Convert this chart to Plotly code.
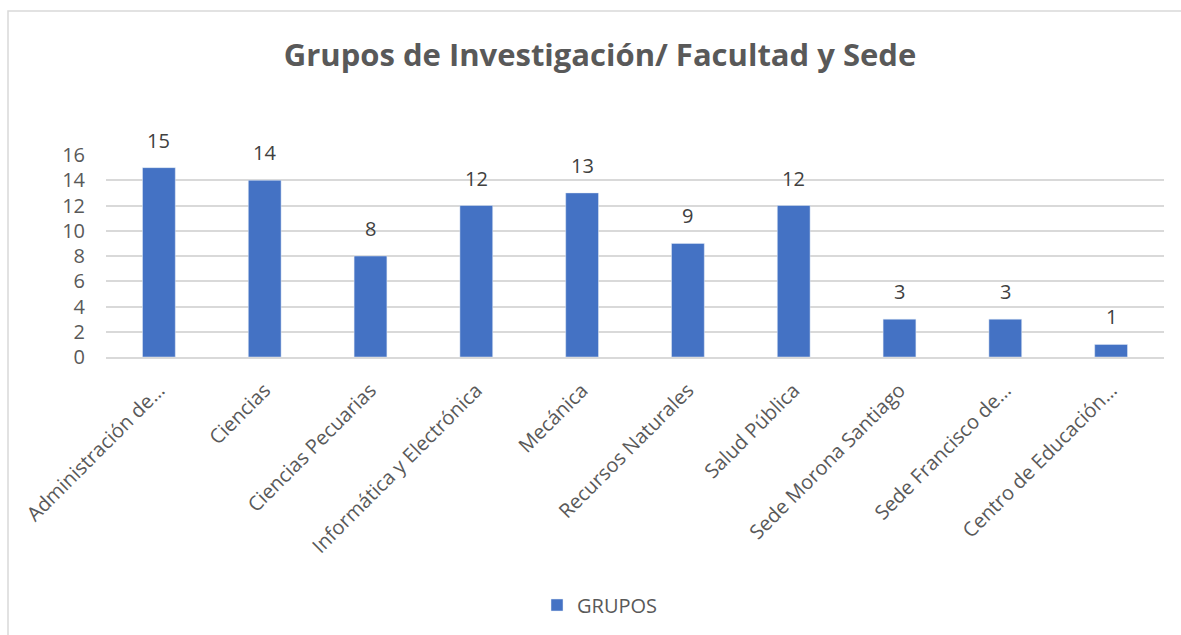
import plotly.graph_objects as go

categories = ["Administración de…", "Ciencias", "Ciencias Pecuarias", "Informática y Electrónica",
              "Mecánica", "Recursos Naturales", "Salud Pública", "Sede Morona Santiago",
              "Sede Francisco de…", "Centro de Educación…"]
grupos = [15, 14, 8, 12, 13, 9, 12, 3, 3, 1]
y_ticks = [0, 2, 4, 6, 8, 10, 12, 14, 16]

FONT = "Open Sans"
GREY = "#595959"

ml, mr, mt, mb = 106, 17, 155, 278
W, H = 1181, 635
pw, ph = W - ml - mr, H - mt - mb

def px_x(p):
    return (p - ml) / pw

def px_y(p):
    return (H - mb - p) / ph

fig = go.Figure()
fig.add_trace(go.Bar(
    x=categories, y=grupos, name="GRUPOS",
    marker=dict(color="#4472C4"),
    cliponaxis=False,
))

annotations = [dict(x=c, y=v, xref="x", yref="y", text=str(v), showarrow=False,
                    yanchor="bottom", yshift=12,
                    font=dict(family=FONT, size=20, color="#404040"))
               for c, v in zip(categories, grupos)]

fig.update_layout(
    width=W, height=H,
    margin=dict(l=ml, r=mr, t=mt, b=mb, autoexpand=False),
    paper_bgcolor="white", plot_bgcolor="white",
    bargap=0.69,
    font=dict(family=FONT, color=GREY, size=20),
    title=dict(text="<b>Grupos de Investigación/ Facultad y Sede</b>",
               x=600 / W, xanchor="center", y=1 - 55 / H, yanchor="middle",
               font=dict(family=FONT, size=31, color=GREY)),
    showlegend=True,
    legend=dict(orientation="h", x=px_x(600), xanchor="center",
                y=px_y(605), yanchor="middle", itemwidth=30,
                font=dict(family=FONT, size=20, color=GREY)),
    annotations=annotations,
    xaxis=dict(tickangle=-45, tickfont=dict(family=FONT, size=20, color=GREY),
               showline=True, linecolor="#d9d9d9", linewidth=1.5,
               ticks="", showgrid=False, ticklabelstandoff=12),
    yaxis=dict(range=[0, 16], tickvals=y_ticks, showgrid=True, gridcolor="#d9d9d9",
               gridwidth=1.5, zeroline=False, showline=False,
               tickfont=dict(family=FONT, size=20, color=GREY), ticks="",
               ticklabelstandoff=20),
    shapes=[dict(type="rect", xref="paper", yref="paper",
                 x0=px_x(8), x1=px_x(1300), y0=px_y(800), y1=px_y(11),
                 line=dict(color="#d9d9d9", width=1.5), layer="below")],
)

fig.write_html("out.html", config={"displayModeBar": False},
               post_script="document.documentElement.style.overflow='hidden';"
                           "document.body.style.margin='0';"
                           "document.body.style.overflow='hidden';")
